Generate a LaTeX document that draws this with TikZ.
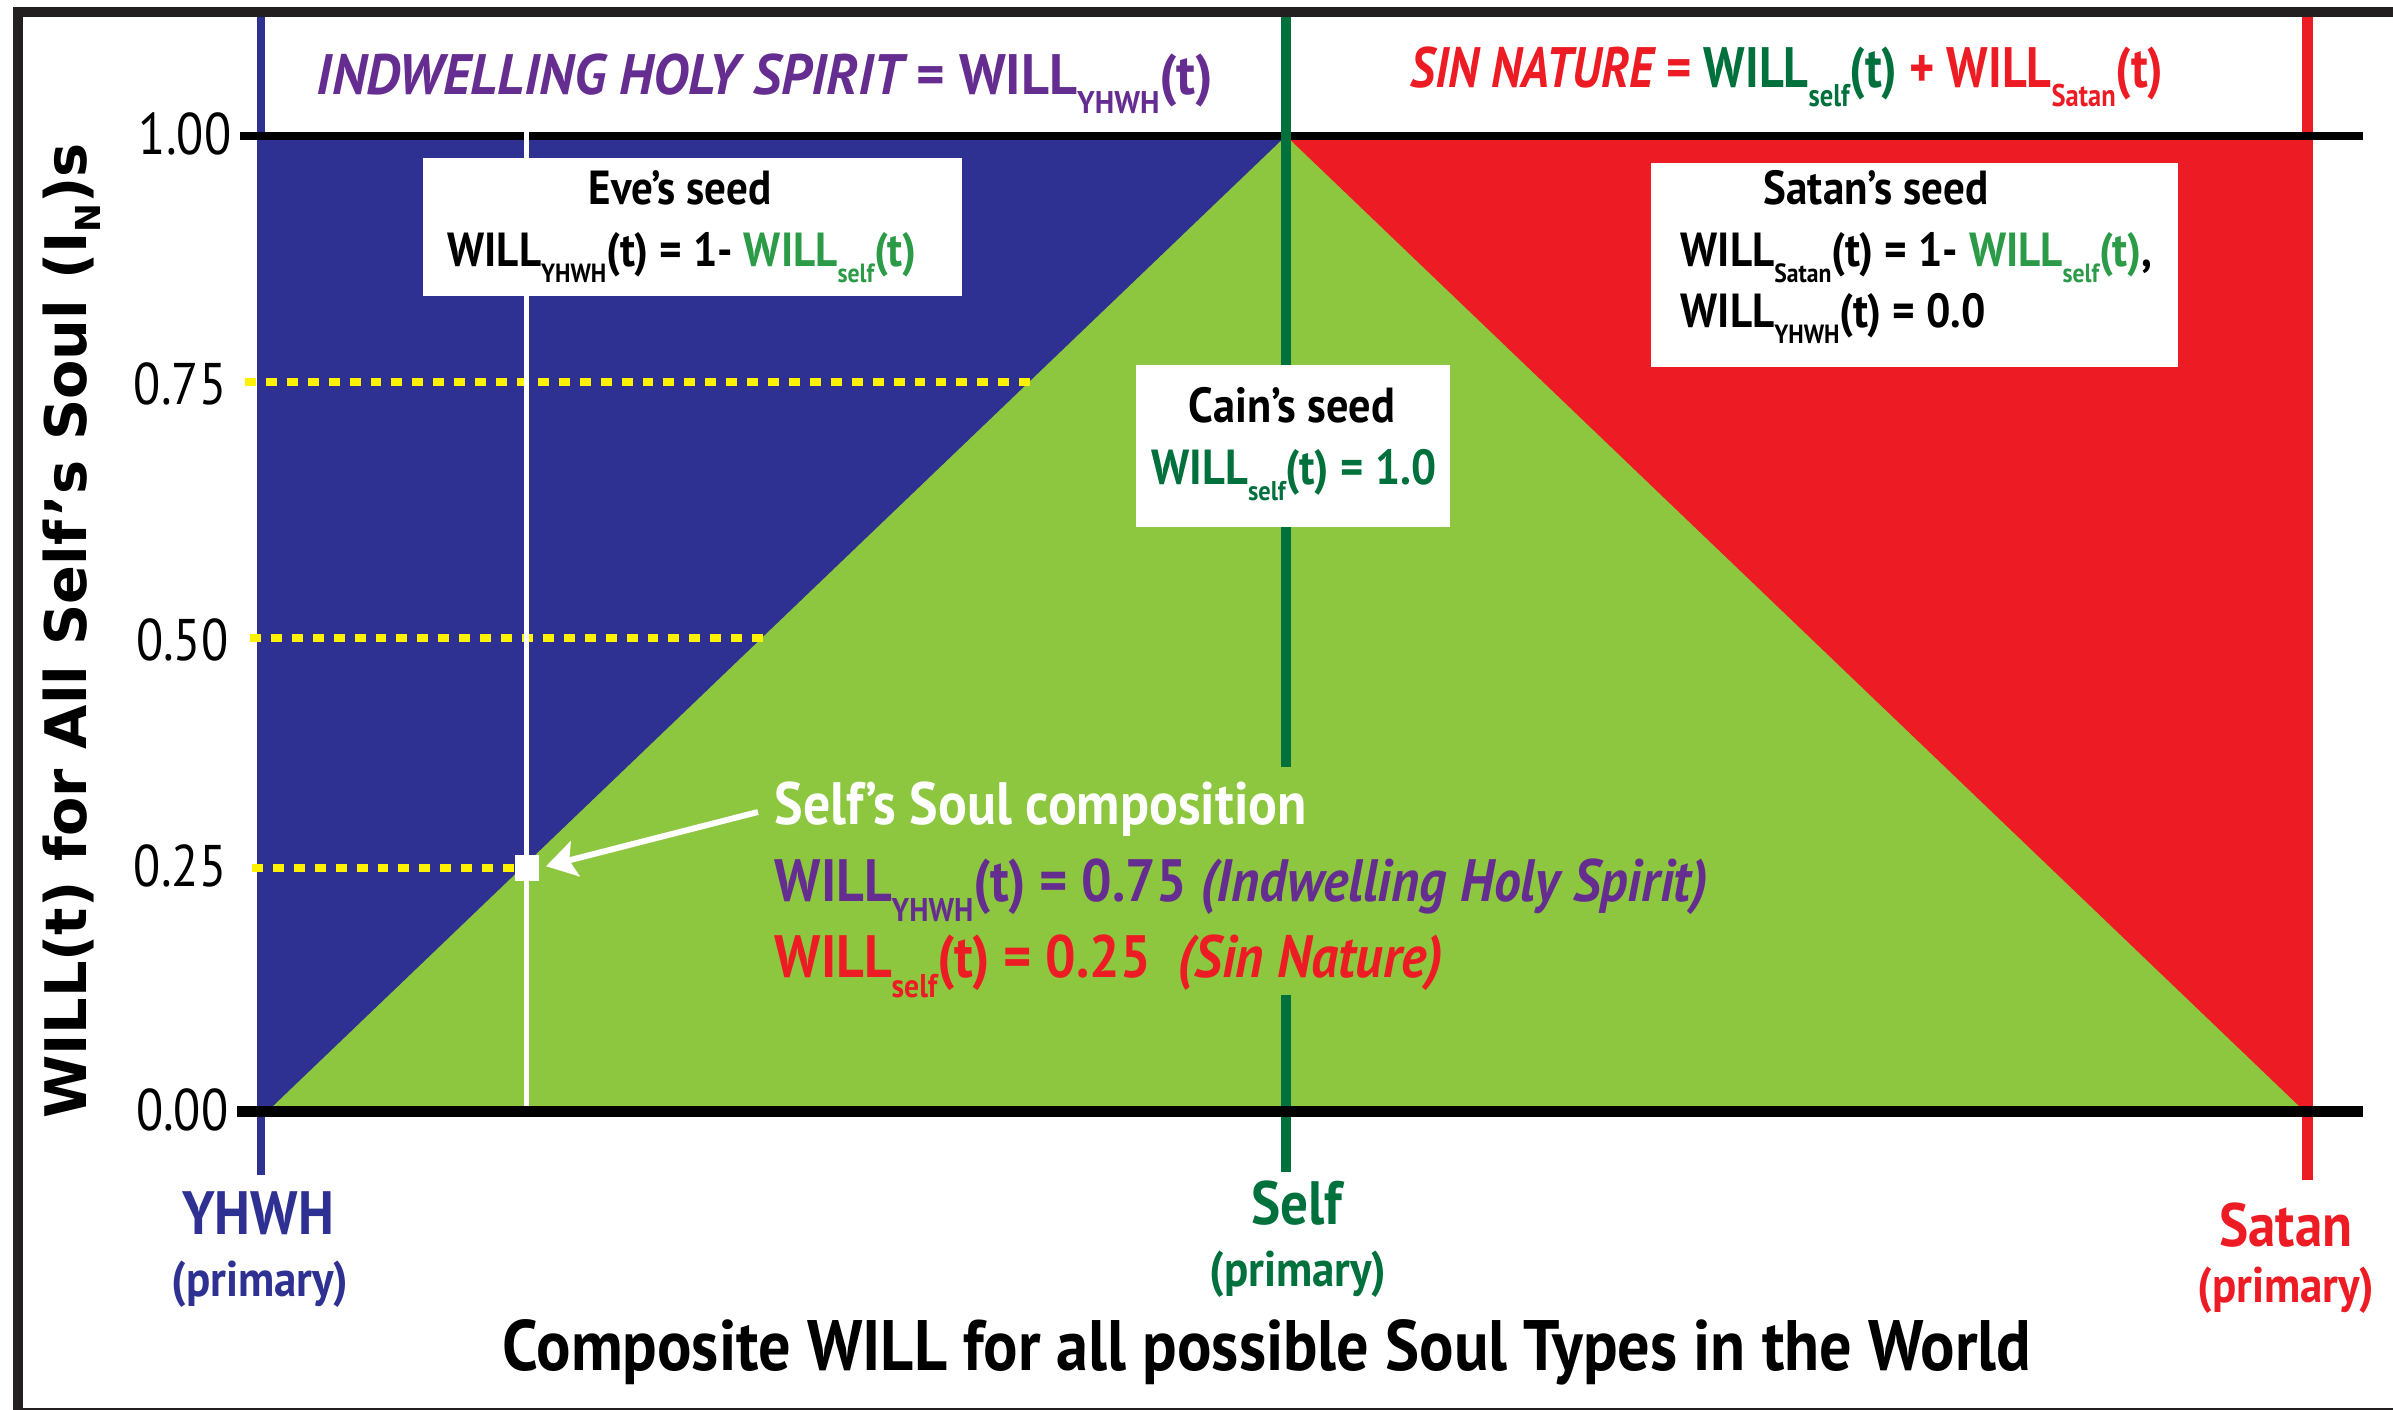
\documentclass[tikz,border=0pt]{standalone}
\usepackage{fontspec}
\setmainfont{PT Sans}
\newfontfamily\cnd[FakeStretch=0.9]{PT Sans}
\newfontfamily\cndlt[FakeStretch=0.85]{PT Sans}
\newfontfamily\dvs{DejaVu Sans}
\usetikzlibrary{arrows.meta}
\definecolor{blueR}{RGB}{46,49,146}
\definecolor{greenT}{RGB}{141,198,63}
\definecolor{redR}{RGB}{237,28,36}
\definecolor{dgreen}{RGB}{0,112,60}
\definecolor{mgreen}{RGB}{43,155,72}
\definecolor{purp}{RGB}{102,45,145}
\definecolor{yel}{RGB}{255,242,0}
\definecolor{frm}{RGB}{35,31,32}
\newcommand\sbs[1]{\raisebox{-0.32em}{\scalebox{0.55}{#1}}}
\begin{document}
\begin{tikzpicture}[x=0.01cm,y=-0.01cm,
  tick/.style={anchor=east,inner sep=0pt,font=\cndlt\fontsize{16.7}{18}\selectfont},
  hdr/.style={anchor=base,inner sep=0pt,font=\cnd\bfseries\fontsize{16.2}{18}\selectfont},
  boxtxt/.style={inner sep=0pt,font=\cnd\bfseries\fontsize{13.6}{15}\selectfont},
  caintxt/.style={anchor=base,inner sep=0pt,font=\cnd\bfseries\fontsize{14}{16}\selectfont},
  comptxt/.style={anchor=base west,inner sep=0pt,font=\cnd\bfseries\fontsize{17}{19}\selectfont},
  who/.style={anchor=base,inner sep=0pt,font=\cnd\bfseries\fontsize{17.4}{19}\selectfont},
  prim/.style={anchor=base,inner sep=0pt,font=\cnd\bfseries\fontsize{14.2}{16}\selectfont},
  wbox/.style={fill=white,draw=none,inner sep=0pt},
  ydash/.style={yel,line width=2pt,dash pattern=on 3.1pt off 2.85pt},
]
\useasboundingbox (0,0) rectangle (2393,1410);
\fill[white] (0,0) rectangle (2393,1410);
% frame
\draw[frm,line width=2.85pt] (18,12) rectangle (2440,1413);
% vertical guide lines (under regions)
\draw[blueR,line width=2pt] (261,17) -- (261,1175);
% regions
\fill[blueR] (257,136) rectangle (1286,1111);
\fill[redR] (1286,136) rectangle (2313,1111);
\fill[greenT] (268,1111) -- (1286,136) -- (2304,1111) -- cycle;
\draw[redR,line width=3.1pt] (2307.5,17) -- (2307.5,1180);
% yellow dashed levels
\draw[ydash] (245,382) -- (1036,382);
\draw[ydash] (250,638) -- (768,638);
\draw[ydash] (252,868) -- (515,868);
% top axis
\draw[black,line width=2pt] (240,136) -- (2363,136);
% green self line
\draw[dgreen,line width=3.1pt] (1286,17) -- (1286,767);
\draw[dgreen,line width=3.1pt] (1286,995) -- (1286,1172);
% bottom axis
\draw[black,line width=2.85pt] (237,1111.5) -- (2363,1111.5);
% white vertical line
\draw[white,line width=1.7pt] (526.5,130) -- (526.5,1106);
% tick labels
\node[tick] (t100) at (232,134) {1.00};
\node[tick] (t075) at (227,384) {0.75};
\node[tick] (t050) at (229,640) {0.50};
\node[tick] (t025) at (227,866) {0.25};
\node[tick] (t000) at (229,1110) {0.00};
% y axis title
\node[anchor=base,rotate=90,inner sep=0pt,font=\dvs\bfseries\fontsize{16.3}{18}\selectfont] (ytitle) at (86,631)
  {WILL(t) for All Self’s Soul (I\raisebox{-0.25em}{\scalebox{0.6}{N}})s};
% headers
\node[hdr,text=purp] (hleft) at (765,95) {\scalebox{1.06}[1]{\itshape INDWELLING HOLY SPIRIT\upshape{} = WILL\sbs{YHWH}(t)}};
\node[hdr,text=redR] (hright) at (1787,88) {\scalebox{0.94}[1]{\itshape SIN NATURE\upshape{} = \textcolor{dgreen}{WILL\sbs{self}(t)} + WILL\sbs{Satan}(t)}};
% Eve's seed box
\node[wbox,minimum width=5.39cm,minimum height=1.38cm] (evebox) at (692.5,227) {};
\node[boxtxt,anchor=base] (evet) at (680,205) {Eve’s seed};
\node[boxtxt,anchor=base] (evee) at (682,267) {WILL\sbs{YHWH}(t) = 1- \textcolor{mgreen}{WILL\sbs{self}(t)}};
% Satan's seed box
\node[wbox,minimum width=5.27cm,minimum height=2.04cm] (satbox) at (1914.5,265) {};
\node[boxtxt,anchor=base] (satt) at (1876,205) {Satan’s seed};
\node[boxtxt,anchor=base west] (sate1) at (1680,267) {WILL\sbs{Satan}(t) = 1- \textcolor{mgreen}{WILL\sbs{self}(t)},};
\node[boxtxt,anchor=base west] (sate2) at (1680,328) {WILL\sbs{YHWH}(t) = 0.0};
% Cain's seed box
\node[wbox,minimum width=3.14cm,minimum height=1.62cm] (cainbox) at (1293,446) {};
\node[caintxt] (caint) at (1292,423) {Cain’s seed};
\node[caintxt,text=dgreen] (caine) at (1294,485) {WILL\sbs{self}(t) = 1.0};
% composition
\node[fill=white,minimum width=0.23cm,minimum height=0.26cm,inner sep=0pt] (sq) at (527,868) {};
\node[comptxt,text=white] (comp) at (774,825) {Self’s Soul composition};
\node[comptxt,text=purp] (comp2) at (774,902) {WILL\sbs{YHWH}(t) = 0.75 \textit{(Indwelling Holy Spirit)}};
\node[comptxt,text=redR] (comp3) at (774,978) {WILL\sbs{self}(t) = 0.25~~\textit{(Sin Nature)}};
\coordinate (arrs) at (758,812);
\draw[white,line width=1.7pt,-{Stealth[length=0.3cm,width=0.36cm,inset=0.06cm]},shorten >=0.07cm] (arrs) -- (sq.east);
% bottom labels
\node[who,text=blueR] (yh) at (258,1235) {YHWH};
\node[prim,text=blueR] (yhp) at (260,1297) {(primary)};
\node[who,text=dgreen] (sf) at (1297,1225) {Self};
\node[prim,text=dgreen] (sfp) at (1298,1287) {(primary)};
\node[who,text=redR] (st) at (2286,1247) {Satan};
\node[prim,text=redR] (stp) at (2286,1303) {(primary)};
\node[anchor=base,inner sep=0pt,font=\cnd\bfseries\fontsize{20.3}{22}\selectfont] (xtitle) at (1267,1370)
  {Composite WILL for all possible Soul Types in the World};
\end{tikzpicture}
\end{document}
